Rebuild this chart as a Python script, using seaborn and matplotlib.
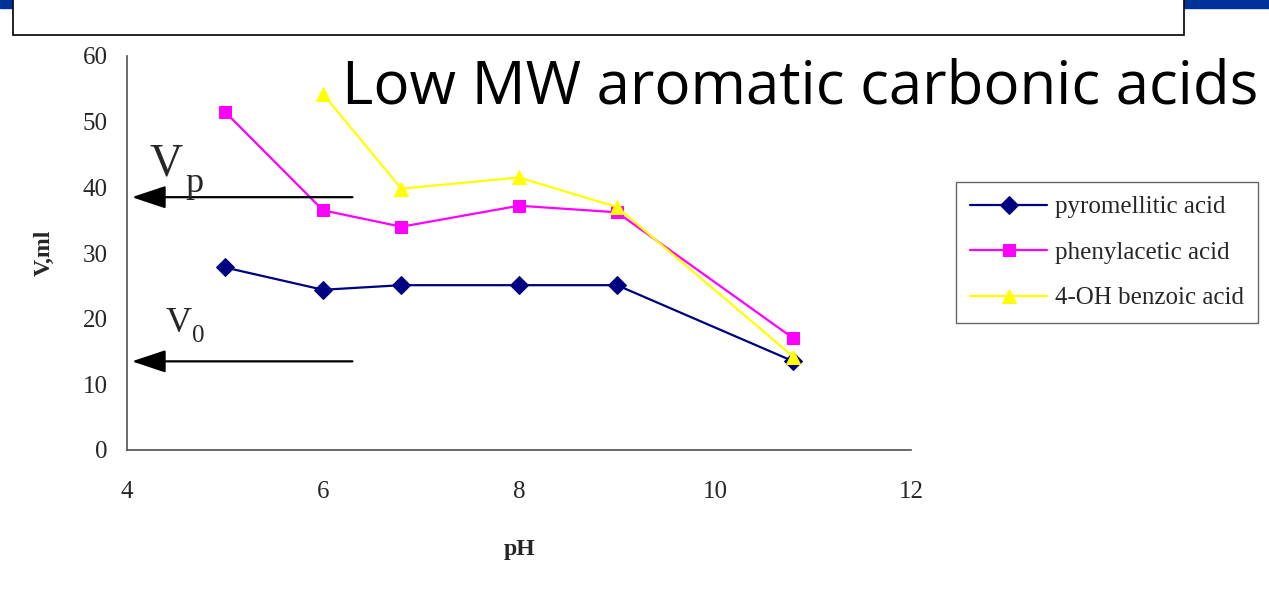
import matplotlib
matplotlib.use("Agg")
import matplotlib.pyplot as plt
import matplotlib.patches as mpatches
import pandas as pd
import seaborn as sns

# Retention volume vs. pH for three low-MW aromatic acids
series_names = ["pyromellitic acid", "phenylacetic acid", "4-OH benzoic acid"]
ph_pyromellitic = [5.0, 6.0, 6.8, 8.0, 9.0, 10.8]
v_pyromellitic = [27.8, 24.4, 25.1, 25.1, 25.1, 13.5]
ph_phenylacetic = [5.0, 6.0, 6.8, 8.0, 9.0, 10.8]
v_phenylacetic = [51.5, 36.5, 34.0, 37.2, 36.2, 17.0]
ph_hydroxybenzoic = [6.0, 6.8, 8.0, 9.0, 10.8]
v_hydroxybenzoic = [54.2, 39.8, 41.5, 37.0, 14.2]

x_ticks = [4, 6, 8, 10, 12]
y_ticks = [0, 10, 20, 30, 40, 50, 60]
v_p_level = 38.5
v_0_level = 13.5
title_text = "Low MW aromatic carbonic acids"

colors = {"pyromellitic acid": "#000080",
          "phenylacetic acid": "#FF00FF",
          "4-OH benzoic acid": "#FFFF00"}
markers = {"pyromellitic acid": "D",
           "phenylacetic acid": "s",
           "4-OH benzoic acid": "^"}
msizes = {"pyromellitic acid": 9, "phenylacetic acid": 8.5, "4-OH benzoic acid": 10}

df = pd.concat([
    pd.DataFrame({"pH": ph_pyromellitic, "V": v_pyromellitic, "acid": series_names[0]}),
    pd.DataFrame({"pH": ph_phenylacetic, "V": v_phenylacetic, "acid": series_names[1]}),
    pd.DataFrame({"pH": ph_hydroxybenzoic, "V": v_hydroxybenzoic, "acid": series_names[2]}),
], ignore_index=True)

sns.set_style("white")
plt.rcParams["font.family"] = ["Liberation Serif", "DejaVu Serif"]

fig = plt.figure(figsize=(12.69, 5.89), dpi=100)
W, H = 1269, 589
ax = fig.add_axes([127 / W, 1 - 450 / H, (911 - 127) / W, (450 - 56) / H])

for name in series_names:
    sub = df[df["acid"] == name]
    sns.lineplot(data=sub, x="pH", y="V", ax=ax, color=colors[name],
                 marker=markers[name], markersize=msizes[name],
                 markeredgecolor=colors[name], linewidth=1.6,
                 sort=False, label=name, clip_on=False)

ax.set_xlim(4, 12)
ax.set_ylim(0, 60)
ax.set_xticks(x_ticks)
ax.set_yticks(y_ticks)
ax.tick_params(axis="both", direction="out", length=8, width=1, color="#404040",
               labelsize=18, pad=14)
ax.tick_params(axis="y", pad=6)
for side in ("top", "right"):
    ax.spines[side].set_visible(False)
for side in ("left", "bottom"):
    ax.spines[side].set_color("#505050")
    ax.spines[side].set_linewidth(1.2)
ax.set_xlabel("pH", fontsize=17, fontweight="bold", labelpad=26)
ax.set_ylabel("V,ml", fontsize=17, fontweight="bold", labelpad=20)
ax.patch.set_alpha(0)

# Horizontal arrows marking V_p and V_0
for level in (v_p_level, v_0_level):
    ax.annotate("", xy=(4.05, level), xytext=(6.3, level),
                arrowprops=dict(arrowstyle="-|>,head_length=1.5,head_width=0.5",
                                mutation_scale=14, lw=1.6, color="black",
                                shrinkA=0, shrinkB=0),
                annotation_clip=False)

fig.text(150 / W, 1 - 175 / H, "V", fontsize=33, va="baseline", ha="left")
fig.text(185 / W, 1 - 192 / H, "p", fontsize=26, va="baseline", ha="left")
fig.text(166 / W, 1 - 332 / H, "V", fontsize=26, va="baseline", ha="left")
fig.text(192 / W, 1 - 342 / H, "0", fontsize=18, va="baseline", ha="left")

# Legend
leg = ax.legend(loc="upper left", bbox_to_anchor=(956 / W, 1 - 182 / H),
                bbox_transform=fig.transFigure, frameon=True, fancybox=False,
                fontsize=18, handlelength=3.1, handletextpad=0.3,
                labelspacing=0.92, borderpad=0.55, borderaxespad=0)
leg.get_frame().set_edgecolor("#404040")
leg.get_frame().set_linewidth(1.0)

# Slide header: white box with blue corner strips
fig.patches.append(mpatches.Rectangle((0, 1 - 8 / H), 13 / W, 8 / H,
                                      transform=fig.transFigure, color="#003399", zorder=1))
fig.patches.append(mpatches.Rectangle((1184 / W, 1 - 8 / H), (W - 1184) / W, 8 / H,
                                      transform=fig.transFigure, color="#003399", zorder=1))
fig.patches.append(mpatches.Rectangle((13 / W, 1 - 35 / H), (1184 - 13) / W, 36 / H,
                                      transform=fig.transFigure, facecolor="white",
                                      edgecolor="black", linewidth=1.2, zorder=2))

fig.text(342 / W, 1 - 103 / H, title_text, fontsize=43.2, va="baseline", ha="left",
         family="Open Sans", color="black")

fig.savefig("out.png", dpi=100)
